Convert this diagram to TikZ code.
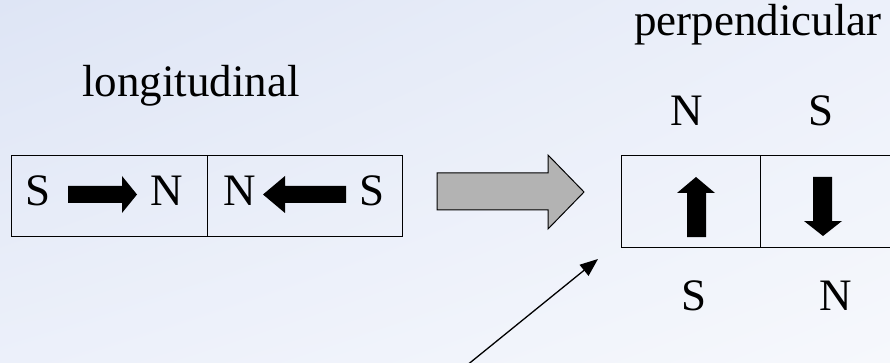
\documentclass[tikz,border=0pt]{standalone}
\usepackage{fontspec}
\setmainfont{Liberation Serif}
\usetikzlibrary{arrows.meta,shadings}
\definecolor{bgA}{RGB}{222,229,245}
\definecolor{bgB}{RGB}{236,240,250}
\definecolor{bgC}{RGB}{246,248,252}
\definecolor{blockgray}{RGB}{179,179,179}
\tikzset{
  cell/.style={draw=black, line width=1.3pt, inner sep=0pt, minimum height=81pt},
  tallcell/.style={draw=black, line width=1.3pt, inner sep=0pt, minimum height=92pt, minimum width=139pt},
  pole/.style={font=\fontsize{45}{54}\selectfont, inner sep=0pt, anchor=base},
  heading/.style={font=\fontsize{45}{54}\selectfont, inner sep=0pt, anchor=base},
  blockarrow/.style={fill=black},
}
\begin{document}
\begin{tikzpicture}[x=1pt, y=-1pt]
  % page frame and soft background
  \useasboundingbox (0,0) rectangle (890,363);
  \clip (0,0) rectangle (890,363);
  \shade[upper left=bgA, lower left=bgB, upper right=bgB, lower right=bgC] (0,0) rectangle (890,363);

  % headings
  \node[heading] (longt) at (191,97) {longitudinal};
  \node[heading] (perp) at (758,36) {perpendicular};

  % longitudinal magnet pair
  \node[cell, minimum width=196pt, anchor=north west] (lb1) at (11,155) {};
  \node[cell, minimum width=195pt, anchor=north west] (lb2) at (207,155) {};
  \node[pole] (ls1) at (38,205) {S};
  \node[pole] (ln1) at (167,205) {N};
  \node[pole] (ln2) at (240,205) {N};
  \node[pole] (ls2) at (372,205) {S};
  \fill[blockarrow] (68,186) -- (122,186) -- (122,176) -- (137,194.5) -- (122,213) -- (122,203) -- (68,203) -- cycle;
  \fill[blockarrow] (346,186) -- (285,186) -- (285,176) -- (263,194.5) -- (285,213) -- (285,203) -- (346,203) -- cycle;

  % transition arrow
  \filldraw[fill=blockgray, draw=black, line width=1pt]
    (437,173) -- (548,173) -- (548,155) -- (584,192) -- (548,229) -- (548,210) -- (437,210) -- cycle;

  % perpendicular magnet pair
  \node[tallcell, anchor=north west] (rb1) at (621,155) {};
  \node[tallcell, anchor=north west] (rb2) at (760,155) {};
  \node[pole] (tn) at (687,126) {N};
  \node[pole] (ts) at (821,126) {S};
  \node[pole] (bs) at (694,310) {S};
  \node[pole] (bn) at (836,310) {N};
  \fill[blockarrow] (687,237) -- (687,193) -- (677,193) -- (696,177) -- (715,193) -- (706,193) -- (706,237) -- cycle;
  \fill[blockarrow] (813,177) -- (813,221) -- (804,221) -- (823,236) -- (842,221) -- (832,221) -- (832,177) -- cycle;

  % pointer towards the boundary region
  \coordinate (pfoot) at (466,366);
  \coordinate (ptip) at (598,259);
  \draw[line width=1.3pt, -{Triangle[length=18pt, width=14pt]}] (pfoot) -- (ptip);
\end{tikzpicture}
\end{document}
